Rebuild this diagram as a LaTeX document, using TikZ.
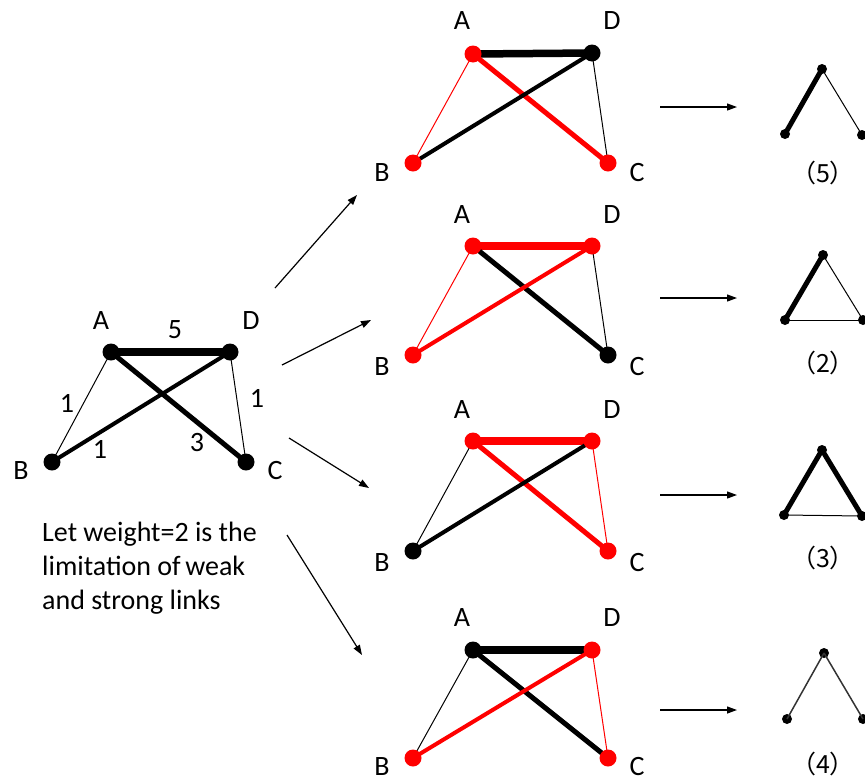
\documentclass[tikz,border=0pt]{standalone}
\usepackage{fontspec}
\setmainfont{Carlito}
\newfontfamily\cjkfont{Noto Sans CJK SC}
\usetikzlibrary{arrows.meta,backgrounds}

% caption of a reduced triad, with full-width brackets
\newcommand\triadlabel[1]{\makebox[1em][r]{（}#1\makebox[1em][l]{）}}

\begin{document}
\begin{tikzpicture}[x=1pt,y=-1pt,
  vtx/.style={circle,fill=black,inner sep=0pt,minimum size=17pt},
  rv/.style={vtx,fill=red},
  sdot/.style={circle,fill=black,inner sep=0pt,minimum size=10pt},
  lbl/.style={font=\fontsize{28}{30}\selectfont,inner sep=0pt},
  triadcap/.style={font=\cjkfont\fontsize{25}{27}\selectfont,inner sep=0pt},
  wk/.style={line width=1pt},
  md/.style={line width=4pt},
  st/.style={line width=5pt},
  hv/.style={line width=7.5pt},
  rd/.style={draw=red},
  arr/.style={-{Triangle[length=10pt,width=7pt]},line width=1.2pt}]

\useasboundingbox (0,0) rectangle (865,782);
\clip (0,0) rectangle (865,782);

% ---------- weighted source graph ----------
\node[vtx] (A) at (111,352) {};
\node[vtx] (D) at (230,352) {};
\node[vtx] (B) at (52,462) {};
\node[vtx] (C) at (246,462) {};
\begin{scope}[on background layer]
  \draw[hv] (A.center) -- (D.center);
  \draw[st] (A.center) -- (C.center);
  \draw[md] (B.center) -- (D.center);
  \draw[wk] (A.center) -- (B.center);
  \draw[wk] (D.center) -- (C.center);
\end{scope}
\node[lbl] (lA) at (101,321) {A};
\node[lbl] (lD) at (251,321) {D};
\node[lbl] (lB) at (21,471) {B};
\node[lbl] (lC) at (275,471) {C};
\node[lbl] (wAD) at (175,330) {5};
\node[lbl] (wAB) at (67,403) {1};
\node[lbl] (wDC) at (257,398) {1};
\node[lbl] (wBD) at (100,449) {1};
\node[lbl] (wAC) at (197,443) {3};

\node[lbl,anchor=west,align=left,font=\fontsize{28}{34}\selectfont] (note) at (42,568)
  {Let weight=2 is the\\limitation of\,weak\\and strong links};

% ---------- case 1 ----------
\node[rv]  (g1A) at (473,54) {};
\node[vtx] (g1D) at (592,53) {};
\node[rv]  (g1B) at (413,163) {};
\node[rv]  (g1C) at (608,163) {};
\begin{scope}[on background layer]
  \draw[hv] (g1A.center) -- (g1D.center);
  \draw[st,rd] (g1A.center) -- (g1C.center);
  \draw[md] (g1B.center) -- (g1D.center);
  \draw[wk,rd] (g1A.center) -- (g1B.center);
  \draw[wk] (g1D.center) -- (g1C.center);
\end{scope}
\node[lbl] (g1lA) at (462,21) {A};
\node[lbl] (g1lD) at (612,21) {D};
\node[lbl] (g1lB) at (382,173) {B};
\node[lbl] (g1lC) at (637,173) {C};

% ---------- case 2 ----------
\node[rv]  (g2A) at (473,246) {};
\node[rv]  (g2D) at (592,246) {};
\node[rv]  (g2B) at (413,355) {};
\node[vtx] (g2C) at (608,355) {};
\begin{scope}[on background layer]
  \draw[hv,rd] (g2A.center) -- (g2D.center);
  \draw[st] (g2A.center) -- (g2C.center);
  \draw[md,rd] (g2B.center) -- (g2D.center);
  \draw[wk,rd] (g2A.center) -- (g2B.center);
  \draw[wk] (g2D.center) -- (g2C.center);
\end{scope}
\node[lbl] (g2lA) at (462,215) {A};
\node[lbl] (g2lD) at (612,215) {D};
\node[lbl] (g2lB) at (382,367) {B};
\node[lbl] (g2lC) at (637,367) {C};

% ---------- case 3 ----------
\node[rv]  (g3A) at (473,441) {};
\node[rv]  (g3D) at (592,441) {};
\node[vtx] (g3B) at (413,551) {};
\node[rv]  (g3C) at (608,551) {};
\begin{scope}[on background layer]
  \draw[hv,rd] (g3A.center) -- (g3D.center);
  \draw[st,rd] (g3A.center) -- (g3C.center);
  \draw[md] (g3B.center) -- (g3D.center);
  \draw[wk] (g3A.center) -- (g3B.center);
  \draw[wk,rd] (g3D.center) -- (g3C.center);
\end{scope}
\node[lbl] (g3lA) at (462,410) {A};
\node[lbl] (g3lD) at (612,410) {D};
\node[lbl] (g3lB) at (382,563) {B};
\node[lbl] (g3lC) at (637,563) {C};

% ---------- case 4 ----------
\node[vtx] (g4A) at (473,650) {};
\node[rv]  (g4D) at (592,650) {};
\node[rv]  (g4B) at (413,758) {};
\node[rv]  (g4C) at (608,758) {};
\begin{scope}[on background layer]
  \draw[hv] (g4A.center) -- (g4D.center);
  \draw[st] (g4A.center) -- (g4C.center);
  \draw[md,rd] (g4B.center) -- (g4D.center);
  \draw[wk] (g4A.center) -- (g4B.center);
  \draw[wk,rd] (g4D.center) -- (g4C.center);
\end{scope}
\node[lbl] (g4lA) at (462,618) {A};
\node[lbl] (g4lD) at (612,618) {D};
\node[lbl] (g4lB) at (382,767) {B};
\node[lbl] (g4lC) at (637,767) {C};

% ---------- arrows from the source graph ----------
\coordinate (s1) at (275,288); \coordinate (e1) at (357,195);
\coordinate (s2) at (282,365); \coordinate (e2) at (371,320);
\coordinate (s3) at (289,438); \coordinate (e3) at (369,488);
\coordinate (s4) at (287,535); \coordinate (e4) at (362,655);
\draw[arr] (s1) -- (e1);
\draw[arr] (s2) -- (e2);
\draw[arr] (s3) -- (e3);
\draw[arr] (s4) -- (e4);

% ---------- arrows to the reduced triads ----------
\foreach \i/\y in {1/107,2/298,3/495,4/710}{
  \coordinate (r\i s) at (660,\y);
  \coordinate (r\i e) at (737,\y);
  \draw[arr] (r\i s) -- (r\i e);
}

% ---------- reduced triads ----------
% (5)
\node[sdot] (t5T) at (822,69) {};
\node[sdot] (t5L) at (785,134) {};
\node[sdot] (t5R) at (862,135) {};
\draw[st] (t5L.center) -- (t5T.center);
\draw[wk] (t5T.center) -- (t5R.center);
\node[triadcap] (c5) at (823,173) {\triadlabel{5}};

% (2)
\node[sdot] (t2T) at (823,255) {};
\node[sdot] (t2L) at (785,320) {};
\node[sdot] (t2R) at (863,320) {};
\draw[st] (t2L.center) -- (t2T.center);
\draw[wk] (t2T.center) -- (t2R.center);
\draw[wk] (t2L.center) -- (t2R.center);
\node[triadcap] (c2) at (823,363) {\triadlabel{2}};

% (3)
\node[sdot] (t3T) at (822,450) {};
\node[sdot] (t3L) at (784,515) {};
\node[sdot] (t3R) at (862,516) {};
\draw[st] (t3L.center) -- (t3T.center);
\draw[st] (t3T.center) -- (t3R.center);
\draw[wk] (t3L.center) -- (t3R.center);
\node[triadcap] (c3) at (823,558) {\triadlabel{3}};

% (4)
\node[sdot] (t4T) at (824,653) {};
\node[sdot] (t4L) at (787,719) {};
\node[sdot] (t4R) at (863,719) {};
\draw[line width=1.5pt,black!80] (t4L.center) -- (t4T.center);
\draw[line width=1.5pt,black!80] (t4T.center) -- (t4R.center);
\node[triadcap] (c4) at (823,764) {\triadlabel{4}};
\end{tikzpicture}
\end{document}
